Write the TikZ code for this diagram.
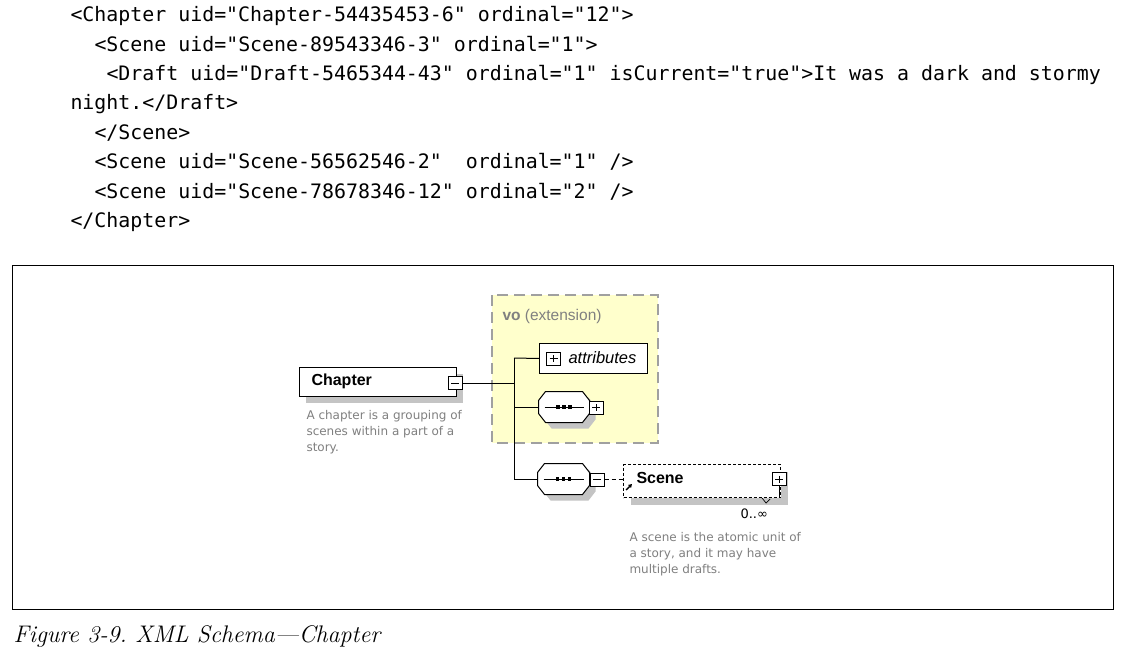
\documentclass[tikz,border=0pt]{standalone}
\usepackage{fontspec}
\newfontfamily\codefont{DejaVu Sans Mono}
\newfontfamily\labfont{Liberation Sans}
\newfontfamily\descfont{DejaVu Sans}
\usetikzlibrary{arrows.meta,shadows}
\definecolor{yel}{RGB}{255,255,204}
\definecolor{dashgray}{RGB}{160,160,160}
\definecolor{shad}{RGB}{196,196,196}
\definecolor{txtgray}{RGB}{128,128,128}
\frenchspacing
\newcommand\octpath[1]{([xshift=7pt]#1.north west) -- ([xshift=-7pt]#1.north east) -- ([yshift=-9pt]#1.north east) -- ([yshift=9pt]#1.south east) -- ([xshift=-7pt]#1.south east) -- ([xshift=7pt]#1.south west) -- ([yshift=9pt]#1.south west) -- ([yshift=-9pt]#1.north west) -- cycle}
\newcommand\seqsym[1]{\draw ([xshift=6pt]#1.west) -- ([xshift=-6pt]#1.east);
  \foreach \d in {-6,0,6} \fill ([xshift=\d pt]#1.center) +(-1.8,-1.8) rectangle +(1.8,1.8);}
\begin{document}
\begin{tikzpicture}[x=1pt,y=-1pt,line width=1pt,
  code/.style={anchor=base west,inner sep=0,font=\codefont\fontsize{19.9}{24}\selectfont},
  box/.style={draw,fill=white,inner sep=0},
  shadowed/.style={drop shadow={shadow xshift=#1pt,shadow yshift=-#1pt,fill=shad,opacity=1}},
  pmbox/.style={draw,fill=white,inner sep=0,minimum width=14pt,minimum height=13pt},
  plus/.style={pmbox,path picture={\draw ([xshift=3pt]path picture bounding box.west) -- ([xshift=-3pt]path picture bounding box.east) ([yshift=-3pt]path picture bounding box.north) -- ([yshift=3pt]path picture bounding box.south);}},
  minus/.style={pmbox,path picture={\draw ([xshift=3pt]path picture bounding box.west) -- ([xshift=-3pt]path picture bounding box.east);}},
  lab/.style={anchor=west,inner sep=0,font=\labfont\bfseries\fontsize{16}{18}\selectfont},
  desc/.style={anchor=base west,inner sep=0,text=txtgray,font=\descfont\fontsize{12}{16}\selectfont},
  octo/.style={inner sep=0,minimum width=#1}
]
\useasboundingbox (0,0) rectangle (1129,663);
\fill[white] (0,0) rectangle (1129,663);

% code listing
\node[code] (c1) at (70,22) {<Chapter uid="Chapter-54435453-6" ordinal="12">};
\node[code] (c2) at (94,51.3) {<Scene uid="Scene-89543346-3" ordinal="1">};
\node[code] (c3) at (106,80.6) {<Draft uid="Draft-5465344-43" ordinal="1" isCurrent="true">It was a dark and stormy};
\node[code] (c4) at (70,110) {night.</Draft>};
\node[code] (c5) at (94,139.3) {</Scene>};
\node[code] (c6) at (94,168.6) {<Scene uid="Scene-56562546-2"\ \ ordinal="1" />};
\node[code] (c7) at (94,198) {<Scene uid="Scene-78678346-12" ordinal="2" />};
\node[code] (c8) at (70,227.3) {</Chapter>};

% frame
\draw (12.5,265.5) rectangle (1113.5,609.5);

% extension box
\draw[fill=yel,draw=dashgray,line width=1.6pt,dash pattern=on 11pt off 6pt] (492,295) rectangle (658,443);
\node[anchor=west,inner sep=0,text=txtgray,font=\labfont\fontsize{15.5}{18}\selectfont] (vo) at (502,316) {\textbf{vo} (extension)};

% Chapter
\node[box,shadowed=6,anchor=north west,minimum width=157pt,minimum height=29pt] (chap) at (299,367) {};
\node[lab] (chapl) at (311,381.5) {Chapter};
\node[minus] (chm) at (455,383) {};
\node[desc] (cd1) at (306,419) {A chapter is a grouping of};
\node[desc] (cd2) at (306,435) {scenes within a part of a};
\node[desc] (cd3) at (306,451) {story.};

% junctions
\coordinate (j) at (514,383);
\coordinate (jt) at (514,358);
\coordinate (jm) at (514,407);
\coordinate (jb) at (514,479);

% attributes
\node[box,anchor=north west,minimum width=108pt,minimum height=30pt] (attr) at (539,343) {};
\node[plus] (attrp) at (553.5,358.5) {};
\node[anchor=west,inner sep=0,font=\labfont\itshape\fontsize{16.5}{18}\selectfont] (attrl) at (568,358) {attributes};

% sequence 1
\node[octo=50pt,minimum height=30pt] (seq1) at (564,407) {};
\path[draw,fill=white,shadowed=6] \octpath{seq1};
\seqsym{seq1}
\node[plus] (seq1p) at (596,407.5) {};

% sequence 2
\node[octo=51pt,minimum height=30pt] (seq2) at (563.5,479) {};
\path[draw,fill=white,shadowed=6] \octpath{seq2};
\seqsym{seq2}
\node[minus] (seq2m) at (597,479.5) {};

% Scene
\node[box,dashed,dash pattern=on 3pt off 2pt,shadowed=7,anchor=north west,minimum width=157pt,minimum height=33pt] (scene) at (623,464) {};
\node[lab] (scenel) at (636,478) {Scene};
\node[plus] (scenep) at (779,479) {};
\draw (scenep.south) -- (scenep.south |- scene.south);
\draw[line width=1.4pt,-{Triangle[length=3.5pt,width=4pt]}] ([shift={(3pt,-26pt)}]scene.north west) -- ([shift={(9pt,-20pt)}]scene.north west);
\draw[line width=0.7pt] ([xshift=-19pt]scene.south east) -- ++(4,5) -- ++(4,-4);
\node[anchor=west,inner sep=0,font=\descfont\fontsize{13}{15}\selectfont] (card) at (740,514) {0..∞};
\node[desc] (sd1) at (629,541) {A scene is the atomic unit of};
\node[desc] (sd2) at (629,557) {a story, and it may have};
\node[desc] (sd3) at (629,573) {multiple drafts.};

% connectors
\draw (chm.east) -- (j);
\draw (jt) -- (jb);
\draw (jt) -- (attr.west);
\draw (jm) -- (seq1.west);
\draw (jb) -- (seq2.west);
\draw[dash pattern=on 4pt off 3pt] (seq2m.east) -- (scene.west |- seq2m.east);

% caption
\node[anchor=base west,inner sep=0,font=\itshape\fontsize{24}{28}\selectfont] (cap) at (13,642) {Figure 3-9. XML Schema—Chapter};
\end{tikzpicture}
\end{document}
